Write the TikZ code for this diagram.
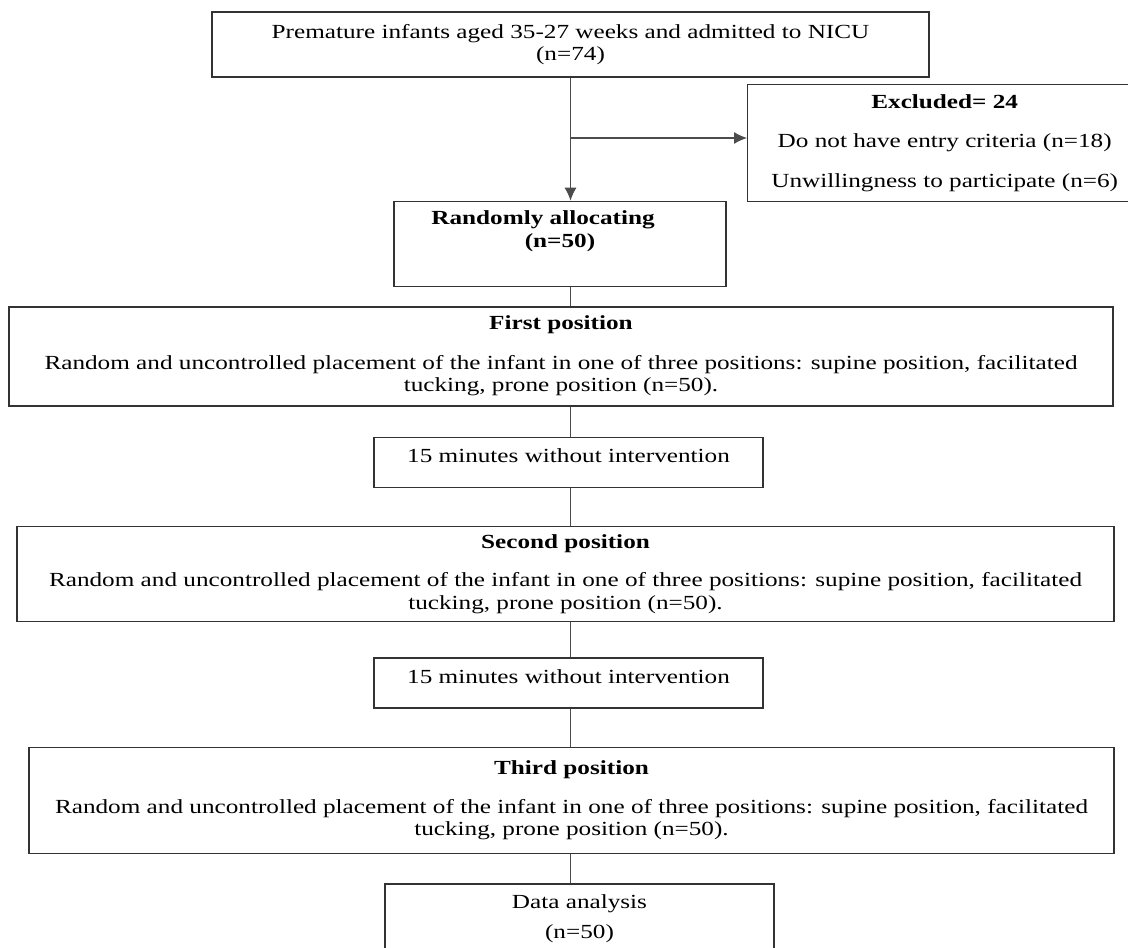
\documentclass[tikz,border=0pt]{standalone}
\usepackage{fontspec}
\setmainfont{Liberation Serif}[FakeStretch=1.26]
\usepackage{tikz}
\usetikzlibrary{shapes, arrows.meta, positioning}
\tikzstyle{block} = [draw=black!80, line width=1.4pt, rectangle, align=center, inner sep=0pt]
\tikzstyle{line} = [draw=black!70, line width=1.2pt]
\tikzstyle{branch} = [coordinate]

\begin{document}
\begin{tikzpicture}[x=1pt, y=-1pt, >={Latex[length=13pt,width=12pt]},
    font=\fontsize{20}{22.5}\selectfont]
    \useasboundingbox (0,0) rectangle (1128,948);
    \node [block, minimum width=717pt, minimum height=65pt] (top) at (570.5,44.5)
        {Premature infants aged 35-27 weeks and admitted to NICU\\(n=74)};
    \node [block, anchor=north west, minimum width=394pt, minimum height=117pt] (excl) at (747,84)
        {\textbf{Excluded= 24}\\[17pt]Do not have entry criteria (n=18)\\[17pt]Unwillingness to participate (n=6)};
    \node [block, below=123pt of top, xshift=-10.5pt, minimum width=332pt, minimum height=85pt] (rand)
        {\textbf{Randomly allocating}\hspace*{34pt}\\\textbf{(n=50)}\\[7pt]\mbox{}};
    \node [block, below=19pt of rand, xshift=1pt, minimum width=1104pt, minimum height=99pt] (first)
        {\textbf{First position}\\[17pt]Random and uncontrolled placement of the infant in one of three positions: supine position, facilitated\\tucking, prone position (n=50).\\[-18pt]\mbox{}};
    \node [block, below=30pt of first, xshift=7.5pt, minimum width=389pt, minimum height=50pt] (waitA)
        {15 minutes without intervention\\[-9pt]\mbox{}};
    \node [block, below=38pt of waitA, xshift=-3pt, minimum width=1097pt, minimum height=95pt] (second)
        {\textbf{Second position}\\[16pt]Random and uncontrolled placement of the infant in one of three positions: supine position, facilitated\\tucking, prone position (n=50).};
    \node [block, below=35pt of second, xshift=3pt, minimum width=389pt, minimum height=50pt] (waitB)
        {15 minutes without intervention\\[-9pt]\mbox{}};
    \node [block, below=38pt of waitB, xshift=3pt, minimum width=1085pt, minimum height=106pt] (third)
        {\textbf{Third position}\\[16pt]Random and uncontrolled placement of the infant in one of three positions: supine position, facilitated\\tucking, prone position (n=50).};
    \node [block, below=29pt of third, xshift=8pt, minimum width=389pt, minimum height=74pt] (data)
        {Data analysis\\[7pt](n=50)\\[-14pt]\mbox{}};
    \node [branch] (split) at (570.5,138) {};
    % flow
    \draw [line,->] (top.south) -- (top.south |- rand.north);
    \draw [line,->] (split) -- (split -| excl.west);
    \draw [line] (top.south |- rand.south) -- (top.south |- first.north);
    \draw [line] (top.south |- first.south) -- (top.south |- waitA.north);
    \draw [line] (top.south |- waitA.south) -- (top.south |- second.north);
    \draw [line] (top.south |- second.south) -- (top.south |- waitB.north);
    \draw [line] (top.south |- waitB.south) -- (top.south |- third.north);
    \draw [line] (top.south |- third.south) -- (top.south |- data.north);
\end{tikzpicture}
\end{document}
